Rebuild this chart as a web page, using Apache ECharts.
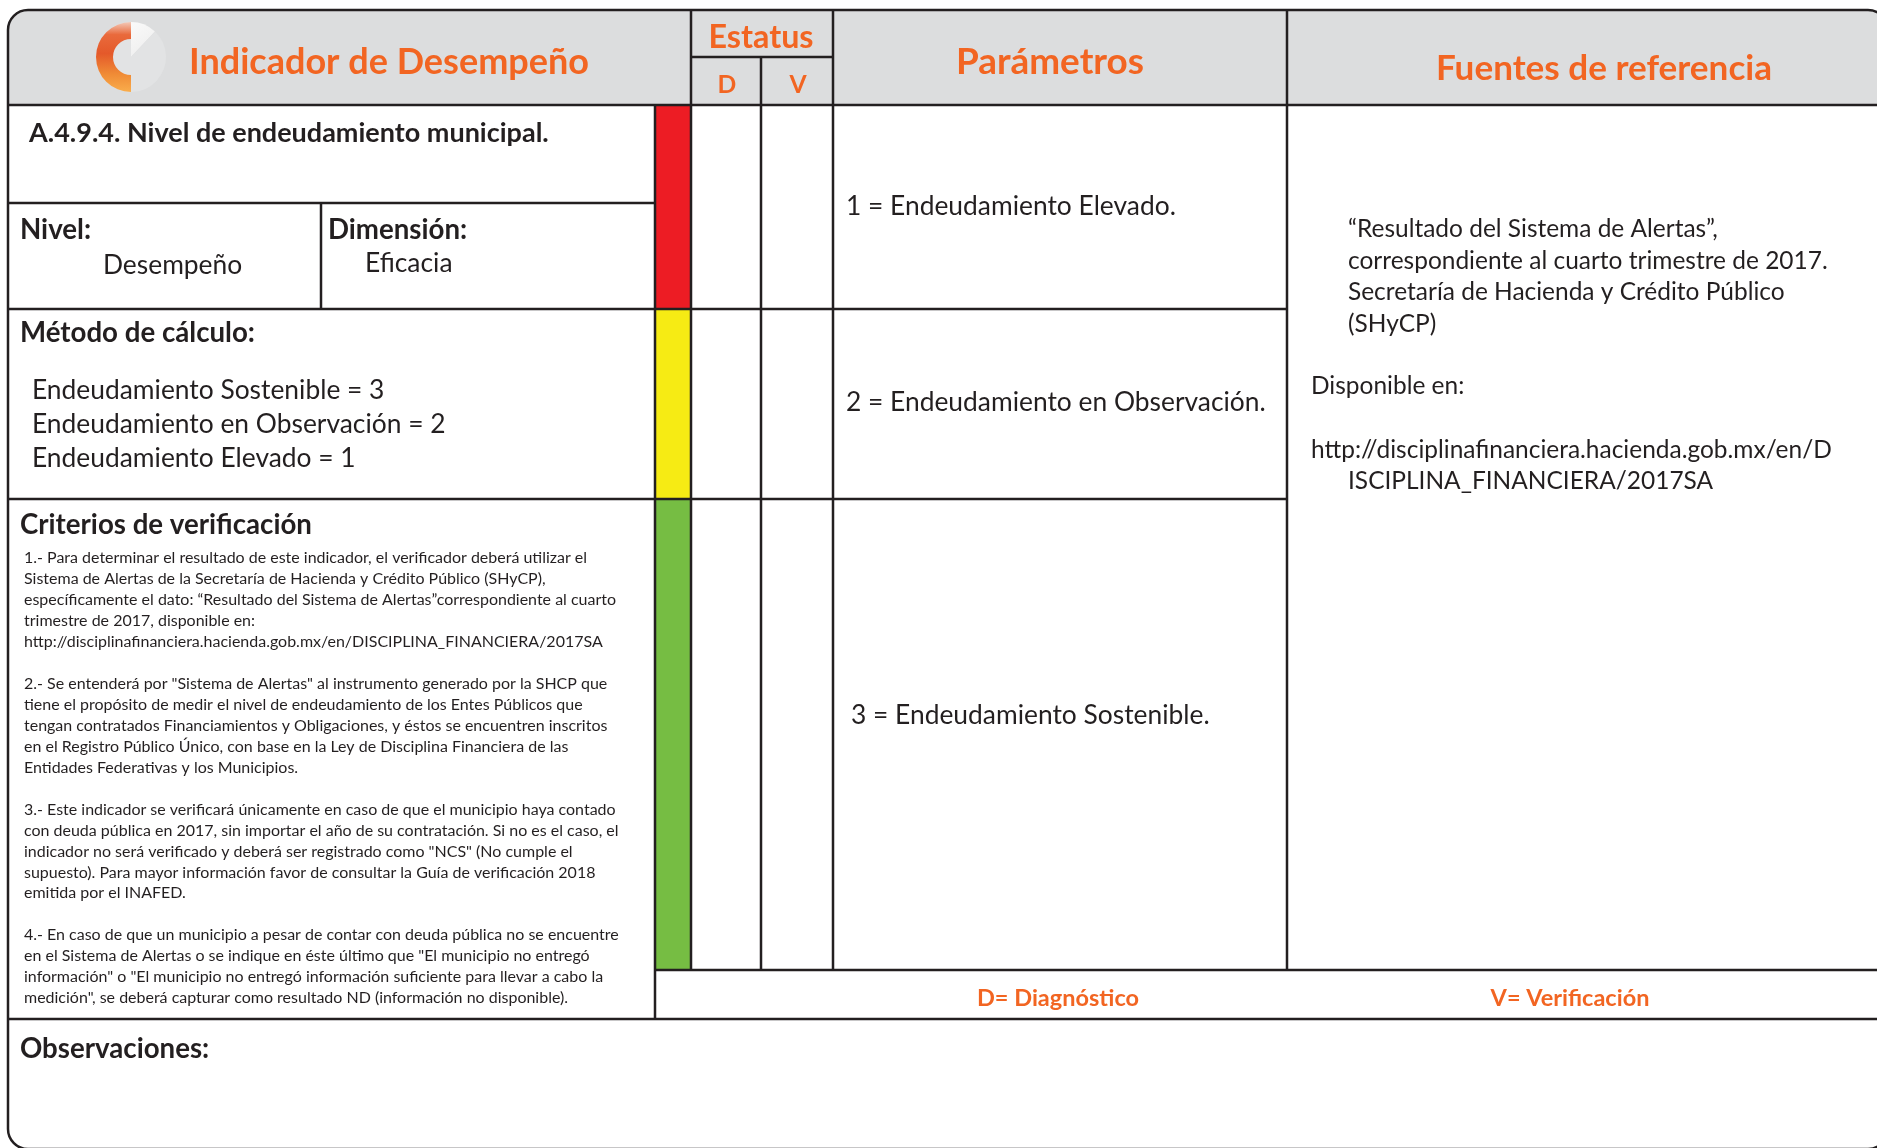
<!DOCTYPE html>
<html><head><meta charset="utf-8">
<script src="https://cdn.jsdelivr.net/npm/echarts@6/dist/echarts.min.js"></script>
<style>html,body{margin:0;padding:0;background:#fff}#c{width:1877px;height:1148px}</style>
</head><body><div id="c"></div>
<script>
// ---------------- content ----------------
const headerTitles = ['Indicador de Desempeño', 'Estatus', 'Parámetros', 'Fuentes de referencia'];
const estatusSub = ['D', 'V'];
const indicatorName = 'A.4.9.4. Nivel de endeudamiento municipal.';
const nivelTexts = ['Nivel:', 'Desempeño'];
const dimensionTexts = ['Dimensión:', 'Eficacia'];
const metodoTitle = 'Método de cálculo:';
const metodoLines = ['Endeudamiento Sostenible = 3', 'Endeudamiento en Observación = 2', 'Endeudamiento Elevado = 1'];
const criteriosTitle = 'Criterios de verificación';
const criteriosParagraphs = [
  ['1.- Para determinar el resultado de este indicador, el verificador deberá utilizar el',
   'Sistema de Alertas de la Secretaría de Hacienda y Crédito Público (SHyCP),',
   'específicamente el dato: “Resultado del Sistema de Alertas”correspondiente al cuarto',
   'trimestre de 2017, disponible en:',
   'http://disciplinafinanciera.hacienda.gob.mx/en/DISCIPLINA_FINANCIERA/2017SA'],
  ['2.- Se entenderá por "Sistema de Alertas" al instrumento generado por la SHCP que',
   'tiene el propósito de medir el nivel de endeudamiento de los Entes Públicos que',
   'tengan contratados Financiamientos y Obligaciones, y éstos se encuentren inscritos',
   'en el Registro Público Único, con base en la Ley de Disciplina Financiera de las',
   'Entidades Federativas y los Municipios.'],
  ['3.- Este indicador se verificará únicamente en caso de que el municipio haya contado',
   'con deuda pública en 2017, sin importar el año de su contratación. Si no es el caso, el',
   'indicador no será verificado y deberá ser registrado como "NCS" (No cumple el',
   'supuesto). Para mayor información favor de consultar la Guía de verificación 2018',
   'emitida por el INAFED.'],
  ['4.- En caso de que un municipio a pesar de contar con deuda pública no se encuentre',
   'en el Sistema de Alertas o se indique en éste último que "El municipio no entregó',
   'información" o "El municipio no entregó información suficiente para llevar a cabo la',
   'medición", se deberá capturar como resultado ND (información no disponible).']
];
const parametros = ['1 = Endeudamiento Elevado.', '2 = Endeudamiento en Observación.', '3 = Endeudamiento Sostenible.'];
const statusColors = ['#ED1C24', '#F6EB14', '#76BD43'];
const fuentesQuote = ['“Resultado del Sistema de Alertas”,', 'correspondiente al cuarto trimestre de 2017.',
  'Secretaría de Hacienda y Crédito Público', '(SHyCP)'];
const fuentesDisponible = 'Disponible en:';
const fuentesUrl = ['http://disciplinafinanciera.hacienda.gob.mx/en/D', 'ISCIPLINA_FINANCIERA/2017SA'];
const legendLabels = ['D= Diagnóstico', 'V= Verificación'];
const observacionesTitle = 'Observaciones:';
const logoBase = [12, 88];      // pale disc: white wedge, rest
const logoRing = [50, 50];      // orange half ring, empty half

// ---------------- styling helpers ----------------
const FAM = 'Lato';
const INK = '#231F20', ORANGE = '#F26522', GRAY = '#DCDDDE';
const DY = 1.5; // baseline nudge
const mctx = document.createElement('canvas').getContext('2d');
function fit(text, weight, target) {
  mctx.font = weight + ' 100px ' + FAM;
  return 100 * target / mctx.measureText(text).width;
}
const S = {
  title: fit(headerTitles[0], 'bold', 400),
  estatus: fit(headerTitles[1], 'bold', 105),
  param: fit(headerTitles[2], 'bold', 188),
  fuentesH: fit(headerTitles[3], 'bold', 336),
  indicator: fit(indicatorName, 'bold', 520),
  section: (fit(metodoTitle, 'bold', 245) + fit(criteriosTitle, 'bold', 301) + fit(observacionesTitle, 'bold', 166) + fit('Dimensión:', 'bold', 146)) / 4,
  body: fit(parametros[1], 'normal', 420),
  fuentes: fit(fuentesQuote[1], 'normal', 480),
  small: fit(criteriosParagraphs[0][4], 'normal', 579),
  legend: fit(legendLabels[0], 'bold', 162)
};

function txt(text, x, y, size, opts) {
  opts = opts || {};
  const weight = opts.bold ? 'bold' : 'normal';
  const align = opts.align || 'left';
  return { type: 'text', silent: true, z: 10,
    style: { text: text, x: x, y: y + DY, fill: opts.color || INK,
      font: weight + ' ' + size.toFixed(2) + 'px ' + FAM,
      align: align, verticalAlign: 'middle', textAlign: align, textVerticalAlign: 'middle' } };
}
function line(x1, y1, x2, y2) {
  return { type: 'line', silent: true, z: 5, shape: { x1, y1, x2, y2 },
    style: { stroke: INK, lineWidth: 2.5 } };
}

const els = [];
// header background
els.push({ type: 'rect', silent: true, z: 1, shape: { x: 8, y: 10, width: 1880, height: 95, r: [22, 22, 0, 0] }, style: { fill: GRAY } });
// status colour bars
const statusBounds = [105, 309, 499, 970];
statusColors.forEach((c, i) => {
  els.push({ type: 'rect', silent: true, z: 2, shape: { x: 655, y: statusBounds[i], width: 36, height: statusBounds[i + 1] - statusBounds[i] }, style: { fill: c } });
});
// grid lines
[[655, 105, 655, 1019], [691, 10, 691, 970], [761, 57, 761, 970], [833, 10, 833, 970], [1287, 10, 1287, 970], [321, 203, 321, 309],
 [8, 105, 1888, 105], [691, 57, 833, 57], [8, 203, 655, 203], [8, 309, 1287, 309], [8, 499, 1287, 499],
 [655, 970, 1888, 970], [8, 1019, 1888, 1019]].forEach(a => els.push(line(a[0], a[1], a[2], a[3])));
// outer frame
els.push({ type: 'rect', silent: true, z: 6, shape: { x: 8, y: 10, width: 1880, height: 1139, r: 20 }, style: { fill: 'none', stroke: INK, lineWidth: 2.5 } });

// header texts
els.push(txt(headerTitles[0], 189, 61, S.title, { bold: true, color: ORANGE }));
els.push(txt(headerTitles[1], 761, 36.5, S.estatus, { bold: true, color: ORANGE, align: 'center' }));
els.push(txt(estatusSub[0], 727, 84, S.legend * 1.05, { bold: true, color: ORANGE, align: 'center' }));
els.push(txt(estatusSub[1], 798, 84, S.legend * 1.05, { bold: true, color: ORANGE, align: 'center' }));
els.push(txt(headerTitles[2], 1050, 61, S.param, { bold: true, color: ORANGE, align: 'center' }));
els.push(txt(headerTitles[3], 1604, 67, S.fuentesH, { bold: true, color: ORANGE, align: 'center' }));

// left panel
els.push(txt(indicatorName, 29, 132, S.indicator, { bold: true }));
els.push(txt(nivelTexts[0], 20, 228.5, S.section, { bold: true }));
els.push(txt(nivelTexts[1], 103, 263.5, S.body));
els.push(txt(dimensionTexts[0], 328, 228.5, S.section, { bold: true }));
els.push(txt(dimensionTexts[1], 365, 261.5, S.body));
els.push(txt(metodoTitle, 20, 332, S.section, { bold: true }));
metodoLines.forEach((t, i) => els.push(txt(t, 32, 388.5 + i * 34.3, S.body)));
els.push(txt(criteriosTitle, 20, 523.5, S.section, { bold: true }));
let k = 0;
criteriosParagraphs.forEach(p => {
  p.forEach(t => { els.push(txt(t, 24, 556.6 + k * 20.95, S.small)); k++; });
  k++;
});
els.push(txt(observacionesTitle, 20, 1048, S.section, { bold: true }));

// parametros
const paramPos = [[846, 204.5], [846, 400.5], [851, 713.5]];
parametros.forEach((t, i) => els.push(txt(t, paramPos[i][0], paramPos[i][1], S.body)));

// fuentes
fuentesQuote.forEach((t, i) => els.push(txt(t, 1348, 227.5 + i * 31.7, S.fuentes)));
els.push(txt(fuentesDisponible, 1311, 385, S.fuentes));
els.push(txt(fuentesUrl[0], 1311, 449, S.fuentes));
els.push(txt(fuentesUrl[1], 1348, 480, S.fuentes));

// legend
els.push(txt(legendLabels[0], 1058, 997, S.legend, { bold: true, color: ORANGE, align: 'center' }));
els.push(txt(legendLabels[1], 1570, 997, S.legend, { bold: true, color: ORANGE, align: 'center' }));

const ringGrad = new echarts.graphic.LinearGradient(0, 0, 0, 1, [
  { offset: 0, color: '#F3C9B8' }, { offset: 0.18, color: '#E96A3C' }, { offset: 0.45, color: '#E4592A' },
  { offset: 0.75, color: '#F08C36' }, { offset: 1, color: '#F9AD4C' }]);
const wedgeGrad = new echarts.graphic.LinearGradient(0, 0, 1, 1, [
  { offset: 0, color: '#FAFAFA' }, { offset: 1, color: '#ECECEC' }]);

const chart = echarts.init(document.getElementById('c'), null, { renderer: 'canvas' });
chart.setOption({
  animation: false,
  backgroundColor: '#ffffff',
  graphic: { elements: els },
  series: [
    { type: 'pie', silent: true, z: 8, center: [131, 57], radius: [0, 35], startAngle: 90, clockwise: true,
      label: { show: false }, labelLine: { show: false }, emphasis: { disabled: true },
      itemStyle: { borderWidth: 0 },
      data: logoBase.map((v, i) => ({ value: v, itemStyle: { color: i === 0 ? wedgeGrad : '#E2E3E4' } })) },
    { type: 'pie', silent: true, z: 9, center: [131, 57], radius: [18, 35], startAngle: 90, clockwise: false,
      label: { show: false }, labelLine: { show: false }, emphasis: { disabled: true },
      itemStyle: { borderWidth: 0 },
      data: logoRing.map((v, i) => ({ value: v, itemStyle: { color: i === 0 ? ringGrad : 'rgba(0,0,0,0)' } })) }
  ]
});
</script></body></html>
